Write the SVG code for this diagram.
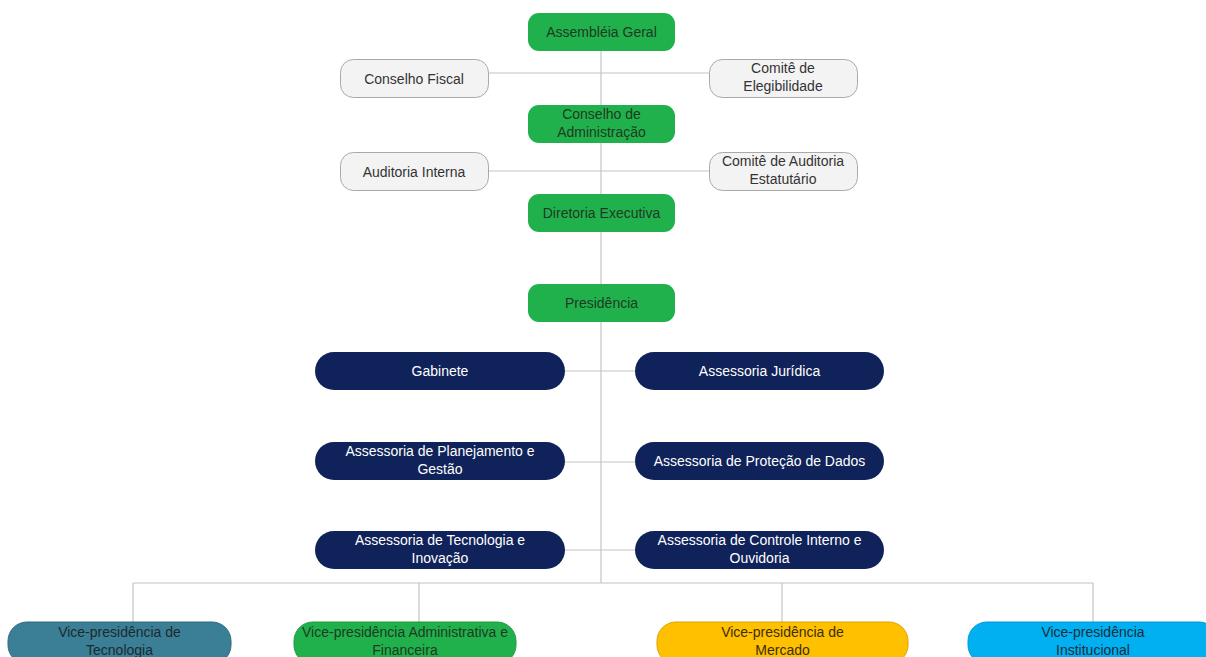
<svg xmlns="http://www.w3.org/2000/svg" width="1206" height="657" viewBox="0 0 1206 657">
<style>
.ln{stroke:#c4c4c4;stroke-width:1.2;fill:none}
.g{fill:#21b14c}
.gt{fill:#1e3a22}
.gr{fill:#f3f3f3;stroke:#a9a9a9;stroke-width:1}
.grt{fill:#333}
.nv{fill:#0f2259}
.nvt{fill:#fff}
text{font-family:"Liberation Sans",Arial,sans-serif;font-size:14px;text-anchor:middle}
</style>
<rect width="1206" height="657" fill="#fff"/>
<g id="connectors">
<line class="ln" x1="601" y1="51" x2="601" y2="583"/>
<line class="ln" x1="488" y1="73" x2="709" y2="73"/>
<line class="ln" x1="488" y1="171" x2="709" y2="171"/>
<line class="ln" x1="565" y1="371" x2="635" y2="371"/>
<line class="ln" x1="565" y1="462" x2="635" y2="462"/>
<line class="ln" x1="565" y1="550" x2="635" y2="550"/>
<line class="ln" x1="133" y1="583" x2="1093" y2="583"/>
<line class="ln" x1="133" y1="583" x2="133" y2="622"/>
<line class="ln" x1="419" y1="583" x2="419" y2="622"/>
<line class="ln" x1="782" y1="583" x2="782" y2="622"/>
<line class="ln" x1="1093" y1="583" x2="1093" y2="622"/>
</g>
<g id="assembleia"><rect class="g" x="528" y="13" width="147" height="38" rx="11"/><text class="gt" x="601.5" y="37">Assembléia Geral</text></g>
<g id="conselho-fiscal"><rect class="gr" x="340.5" y="59.5" width="148" height="38" rx="13"/><text class="grt" x="414" y="83.5">Conselho Fiscal</text></g>
<g id="comite-elegibilidade"><rect class="gr" x="709.5" y="59.5" width="148" height="38" rx="13"/><text class="grt" x="783" y="73">Comitê de</text><text class="grt" x="783" y="91">Elegibilidade</text></g>
<g id="conselho-admin"><rect class="g" x="528" y="105" width="147" height="38" rx="11"/><text class="gt" x="601.5" y="119">Conselho de</text><text class="gt" x="601.5" y="137">Administração</text></g>
<g id="auditoria-interna"><rect class="gr" x="340.5" y="152.5" width="148" height="38" rx="13"/><text class="grt" x="414" y="176.5">Auditoria Interna</text></g>
<g id="comite-auditoria"><rect class="gr" x="709.5" y="152.5" width="148" height="38" rx="13"/><text class="grt" x="783" y="166">Comitê de Auditoria</text><text class="grt" x="783" y="184">Estatutário</text></g>
<g id="diretoria"><rect class="g" x="528" y="194" width="147" height="38" rx="11"/><text class="gt" x="601.5" y="218">Diretoria Executiva</text></g>
<g id="presidencia"><rect class="g" x="528" y="284" width="147" height="38" rx="11"/><text class="gt" x="601.5" y="308">Presidência</text></g>
<g id="gabinete"><rect class="nv" x="315" y="352" width="250" height="38" rx="19"/><text class="nvt" x="440" y="376">Gabinete</text></g>
<g id="juridica"><rect class="nv" x="635" y="352" width="249" height="38" rx="19"/><text class="nvt" x="759.5" y="376">Assessoria Jurídica</text></g>
<g id="planejamento"><rect class="nv" x="315" y="442" width="250" height="38" rx="19"/><text class="nvt" x="440" y="456">Assessoria de Planejamento e</text><text class="nvt" x="440" y="474">Gestão</text></g>
<g id="protecao"><rect class="nv" x="635" y="442" width="249" height="38" rx="19"/><text class="nvt" x="759.5" y="466">Assessoria de Proteção de Dados</text></g>
<g id="tecnologia-inovacao"><rect class="nv" x="315" y="531" width="250" height="38" rx="19"/><text class="nvt" x="440" y="545">Assessoria de Tecnologia e</text><text class="nvt" x="440" y="563">Inovação</text></g>
<g id="controle-interno"><rect class="nv" x="635" y="531" width="249" height="38" rx="19"/><text class="nvt" x="759.5" y="545">Assessoria de Controle Interno e</text><text class="nvt" x="759.5" y="563">Ouvidoria</text></g>
<g id="vp-tecnologia"><rect x="8" y="622" width="223" height="42" rx="19" fill="#3a7f95" stroke="#2f6a7d"/><text x="119.5" y="637" fill="#1c2a30">Vice-presidência de</text><text x="119.5" y="655" fill="#1c2a30">Tecnologia</text></g>
<g id="vp-administrativa"><rect x="294" y="622" width="222" height="42" rx="19" fill="#21b14c" stroke="#1c9a41"/><text x="405" y="637" fill="#1e3a22">Vice-presidência Administrativa e</text><text x="405" y="655" fill="#1e3a22">Financeira</text></g>
<g id="vp-mercado"><rect x="657" y="622" width="251" height="42" rx="19" fill="#ffc000" stroke="#d9a300"/><text x="782.5" y="637" fill="#3a2e10">Vice-presidência de</text><text x="782.5" y="655" fill="#3a2e10">Mercado</text></g>
<g id="vp-institucional"><rect x="968" y="622" width="250" height="42" rx="19" fill="#00b0f0" stroke="#0098d0"/><text x="1093" y="637" fill="#1d2e3a">Vice-presidência</text><text x="1093" y="655" fill="#1d2e3a">Institucional</text></g>
</svg>
